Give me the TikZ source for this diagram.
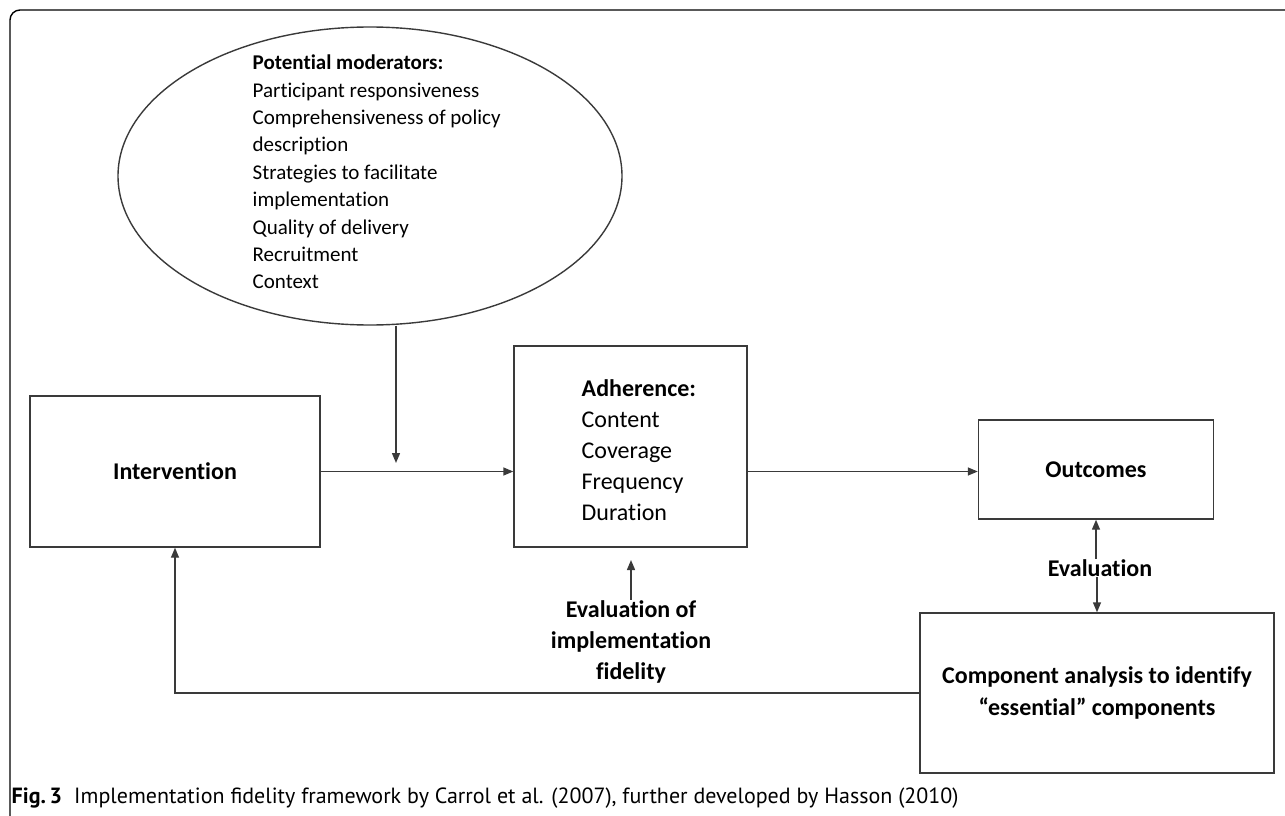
\documentclass[tikz,border=0pt]{standalone}
\usepackage{fontspec}
\setmainfont{Carlito}[RawFeature={-liga;-clig;-calt;-dlig}]
\newfontfamily\capfont{PT Sans}
\usetikzlibrary{arrows.meta,shapes.geometric}
\definecolor{linegray}{HTML}{3A3A3A}
\tikzset{box/.style={draw=linegray,inner sep=0pt,align=center,font=\fontsize{24}{32}\selectfont\bfseries}}
\tikzset{lbl/.style={inner sep=0pt,align=center,font=\fontsize{24}{31}\selectfont\bfseries}}
\begin{document}
\begin{tikzpicture}[x=1pt,y=-1pt,line width=1.4pt,>={Triangle[length=10,width=8]}]
\useasboundingbox (0,0) rectangle (1285,816);
\draw[rounded corners=10] (1285,10)--(10,10)--(10,830);
% moderators
\node[ellipse,draw=linegray,minimum width=504,minimum height=298,inner sep=0pt](mod) at (370,176) {};
\node[anchor=west,align=left,inner sep=0pt,font=\fontsize{21}{27.4}\selectfont](modtxt) at (252,172) {\textbf{Potential moderators:}\\Participant responsiveness\\Comprehensiveness of policy\\description\\Strategies to facilitate\\implementation\\Quality of delivery\\Recruitment\\Context};
% boxes
\node[box,minimum width=290,minimum height=151](int) at (175,471.5) {Intervention};
\node[box,minimum width=233,minimum height=201](adh) at (630.5,446.5) {};
\node[anchor=west,align=left,inner sep=0pt,font=\fontsize{24}{31}\selectfont](adhtxt) at (581,450) {\textbf{Adherence:}\\Content\\Coverage\\Frequency\\Duration};
\node[box,minimum width=235,minimum height=99](out) at (1096,469.5) {Outcomes};
\node[box,minimum width=354,minimum height=160](comp) at (1097,693) {Component analysis to identify\\``essential'' components};
% labels
\node[lbl](fid) at (631,642) {Evaluation of\\implementation\\fidelity};
\node[lbl](ev) at (1100,568) {Evaluation};
\coordinate (modtip) at (396,463);
\coordinate (fidtip) at (631,560);
% connectors
\begin{scope}[draw=linegray]
\draw[->] (mod.south-|modtip)--(modtip);
\draw[->] (int.east)--(int.east-|adh.west);
\draw[->] (int.east-|adh.east)--(int.east-|out.west);
\draw[->] (fid.north)--(fidtip);
\draw[->] (ev.north-|out.south)--(out.south);
\draw[->] (ev.south-|comp.north)--(comp.north);
\draw[->] (comp.west)-|(int.south);
\end{scope}
% caption
\node[anchor=base west,inner sep=0pt,font=\capfont\fontsize{22}{26}\selectfont](cap) at (11,803) {\textbf{Fig.\,3}\hspace{0.55em}Implementation fidelity framework by Carrol et al. (2007), further developed by Hasson (2010)};
\end{tikzpicture}
\end{document}
